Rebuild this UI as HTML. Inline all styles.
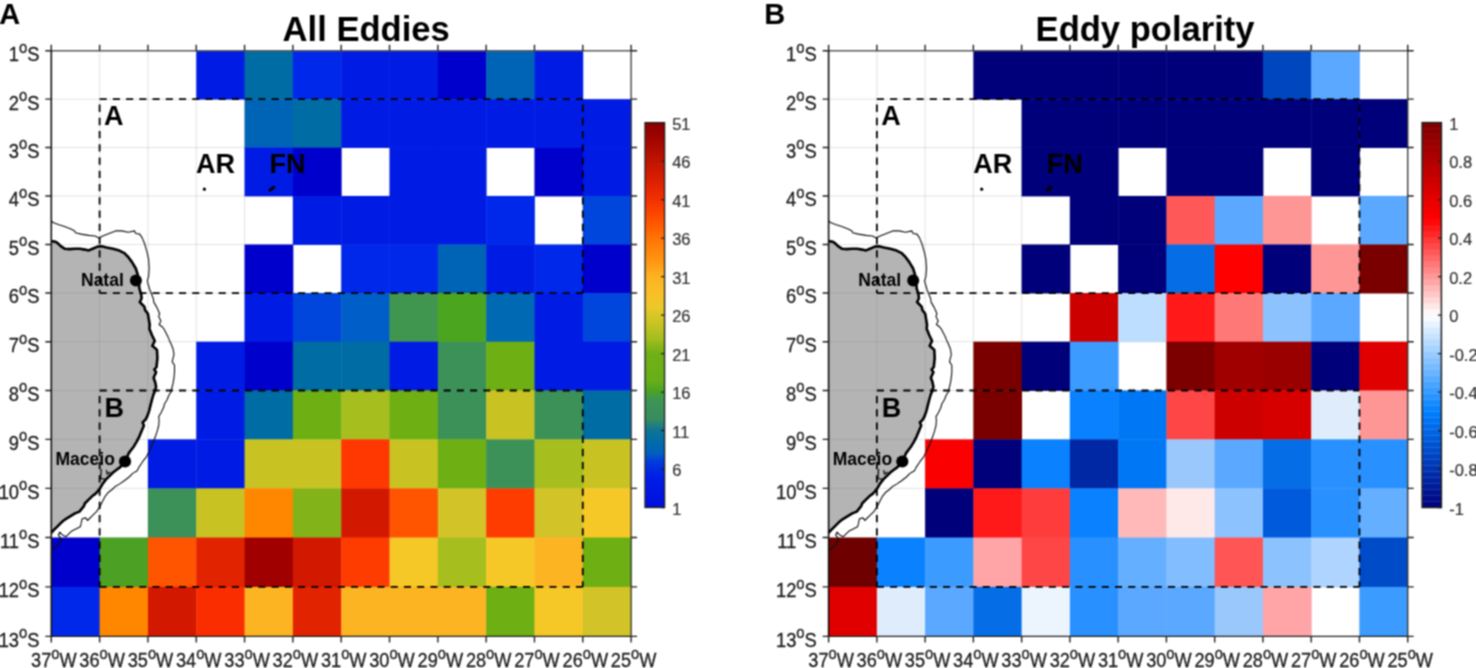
<!DOCTYPE html>
<html><head><meta charset="utf-8"><title>Eddies</title>
<style>
html,body{margin:0;padding:0;background:#fff;width:1476px;height:668px;overflow:hidden}
svg{display:block;will-change:transform}
text{font-family:"Liberation Sans", sans-serif}
</style></head>
<body>
<svg width="1476" height="668" viewBox="0 0 1476 668" font-family='"Liberation Sans", sans-serif'>
<defs><filter id="soft" x="0" y="0" width="100%" height="100%" filterUnits="userSpaceOnUse" color-interpolation-filters="sRGB"><feConvolveMatrix order="3" kernelMatrix="1 2 1 2 4 2 1 2 1" divisor="16" edgeMode="duplicate"/></filter></defs>
<g filter="url(#soft)">
<rect width="1476" height="668" fill="#fff"/>
<polygon points="51.3,241.1 55.6,241.7 58.2,243.6 60.7,246.2 64.5,248.7 69.6,249.1 74.7,248.7 79.8,248.7 84.9,249.6 88.7,250.4 92.6,248.7 97.6,246.6 101.5,246.2 106.6,247.5 112.9,248.7 119.3,250.6 124.4,253.2 128.2,257 132,262.1 135.8,268.5 137.8,274.8 139,283.7 139.4,288.6 141.2,294 141.6,298.5 139.8,302 141.2,303.5 144.3,306.6 145.2,310.2 147.9,313.8 148.8,319.1 149.7,324.5 149.4,329 150.2,330.8 152,335.3 154.2,339.8 154.7,341 152.3,346 153.8,347 157,349.9 157.4,358 156.5,367 154.3,369.6 156.1,372.3 153.6,377.7 155.2,382.2 156.1,386.7 155.2,390.3 153.3,395 152,399.5 150.6,404.9 149.3,410.3 147.5,415.7 145.7,419.3 142.6,422.5 143.9,425.5 141.6,430.9 139.4,436.3 136.7,441.7 134,446.2 131.3,449.8 128.6,453.4 125.1,461.7 120.2,467.1 116.6,469.8 113,472.5 109.4,476.1 105.8,479.6 103.1,483.2 100.4,487.7 97.7,491.3 95.6,493.6 92,496.3 88.4,499.9 84.8,503.5 83.9,506.2 79.4,511.6 75,513.4 70.5,516.1 66,518.8 61.5,522.3 57,526.8 53.4,530.4 51.3,532.8" fill="#b4b4b4"/>
<path d="M99.62 50.8V636.4M147.93 50.8V636.4M196.25 50.8V636.4M244.57 50.8V636.4M292.88 50.8V636.4M341.2 50.8V636.4M389.52 50.8V636.4M437.83 50.8V636.4M486.15 50.8V636.4M534.47 50.8V636.4M582.78 50.8V636.4M51.3 99.16H631.1M51.3 147.55H631.1M51.3 195.99H631.1M51.3 244.48H631.1M51.3 293.05H631.1M51.3 341.71H631.1M51.3 390.48H631.1M51.3 439.36H631.1M51.3 488.38H631.1M51.3 537.54H631.1M51.3 586.88H631.1" stroke="#808080" stroke-width="1" stroke-dasharray="1 1" fill="none" opacity="0.45"/>
<rect x="196.25" y="50.8" width="48.72" height="48.76" fill="#001ce4"/>
<rect x="244.57" y="50.8" width="48.72" height="48.76" fill="#006ca4"/>
<rect x="292.88" y="50.8" width="48.72" height="48.76" fill="#0028ea"/>
<rect x="341.2" y="50.8" width="48.72" height="48.76" fill="#001ce4"/>
<rect x="389.52" y="50.8" width="48.72" height="48.76" fill="#001ce4"/>
<rect x="437.83" y="50.8" width="48.72" height="48.76" fill="#0000cd"/>
<rect x="486.15" y="50.8" width="48.72" height="48.76" fill="#0064b6"/>
<rect x="534.47" y="50.8" width="48.72" height="48.76" fill="#001ce4"/>
<rect x="244.57" y="99.16" width="48.72" height="48.79" fill="#0064b6"/>
<rect x="292.88" y="99.16" width="48.72" height="48.79" fill="#006ca4"/>
<rect x="341.2" y="99.16" width="48.72" height="48.79" fill="#001ce4"/>
<rect x="389.52" y="99.16" width="48.72" height="48.79" fill="#001ce4"/>
<rect x="437.83" y="99.16" width="48.72" height="48.79" fill="#001ce4"/>
<rect x="486.15" y="99.16" width="48.72" height="48.79" fill="#001ce4"/>
<rect x="534.47" y="99.16" width="48.72" height="48.79" fill="#001ce4"/>
<rect x="582.78" y="99.16" width="48.72" height="48.79" fill="#001ce4"/>
<rect x="244.57" y="147.55" width="48.72" height="48.84" fill="#001ce4"/>
<rect x="292.88" y="147.55" width="48.72" height="48.84" fill="#0000cd"/>
<rect x="389.52" y="147.55" width="48.72" height="48.84" fill="#001ce4"/>
<rect x="437.83" y="147.55" width="48.72" height="48.84" fill="#001ce4"/>
<rect x="534.47" y="147.55" width="48.72" height="48.84" fill="#0000cd"/>
<rect x="582.78" y="147.55" width="48.72" height="48.84" fill="#001ce4"/>
<rect x="292.88" y="195.99" width="48.72" height="48.9" fill="#001ce4"/>
<rect x="341.2" y="195.99" width="48.72" height="48.9" fill="#001ce4"/>
<rect x="389.52" y="195.99" width="48.72" height="48.9" fill="#001ce4"/>
<rect x="437.83" y="195.99" width="48.72" height="48.9" fill="#001ce4"/>
<rect x="486.15" y="195.99" width="48.72" height="48.9" fill="#0028ea"/>
<rect x="582.78" y="195.99" width="48.72" height="48.9" fill="#0046dc"/>
<rect x="244.57" y="244.48" width="48.72" height="48.97" fill="#0000cd"/>
<rect x="341.2" y="244.48" width="48.72" height="48.97" fill="#0028ea"/>
<rect x="389.52" y="244.48" width="48.72" height="48.97" fill="#0028ea"/>
<rect x="437.83" y="244.48" width="48.72" height="48.97" fill="#0064b6"/>
<rect x="486.15" y="244.48" width="48.72" height="48.97" fill="#001ce4"/>
<rect x="534.47" y="244.48" width="48.72" height="48.97" fill="#0028ea"/>
<rect x="582.78" y="244.48" width="48.72" height="48.97" fill="#0000cd"/>
<rect x="244.57" y="293.05" width="48.72" height="49.06" fill="#001ce4"/>
<rect x="292.88" y="293.05" width="48.72" height="49.06" fill="#0046dc"/>
<rect x="341.2" y="293.05" width="48.72" height="49.06" fill="#005ec8"/>
<rect x="389.52" y="293.05" width="48.72" height="49.06" fill="#41964f"/>
<rect x="437.83" y="293.05" width="48.72" height="49.06" fill="#4ba51f"/>
<rect x="486.15" y="293.05" width="48.72" height="49.06" fill="#0069b4"/>
<rect x="534.47" y="293.05" width="48.72" height="49.06" fill="#001ce4"/>
<rect x="582.78" y="293.05" width="48.72" height="49.06" fill="#0046dc"/>
<rect x="196.25" y="341.71" width="48.72" height="49.16" fill="#001ce4"/>
<rect x="244.57" y="341.71" width="48.72" height="49.16" fill="#0000cd"/>
<rect x="292.88" y="341.71" width="48.72" height="49.16" fill="#006ca4"/>
<rect x="341.2" y="341.71" width="48.72" height="49.16" fill="#006ca4"/>
<rect x="389.52" y="341.71" width="48.72" height="49.16" fill="#001ce4"/>
<rect x="437.83" y="341.71" width="48.72" height="49.16" fill="#3c9158"/>
<rect x="486.15" y="341.71" width="48.72" height="49.16" fill="#6eaf14"/>
<rect x="534.47" y="341.71" width="48.72" height="49.16" fill="#001ce4"/>
<rect x="582.78" y="341.71" width="48.72" height="49.16" fill="#001ce4"/>
<rect x="196.25" y="390.48" width="48.72" height="49.28" fill="#001ce4"/>
<rect x="244.57" y="390.48" width="48.72" height="49.28" fill="#006ca4"/>
<rect x="292.88" y="390.48" width="48.72" height="49.28" fill="#6eaf14"/>
<rect x="341.2" y="390.48" width="48.72" height="49.28" fill="#a6be1e"/>
<rect x="389.52" y="390.48" width="48.72" height="49.28" fill="#6eaf14"/>
<rect x="437.83" y="390.48" width="48.72" height="49.28" fill="#3c9158"/>
<rect x="486.15" y="390.48" width="48.72" height="49.28" fill="#c8c323"/>
<rect x="534.47" y="390.48" width="48.72" height="49.28" fill="#3c9158"/>
<rect x="582.78" y="390.48" width="48.72" height="49.28" fill="#006ca4"/>
<rect x="147.93" y="439.36" width="48.72" height="49.42" fill="#001ce4"/>
<rect x="196.25" y="439.36" width="48.72" height="49.42" fill="#001ce4"/>
<rect x="244.57" y="439.36" width="48.72" height="49.42" fill="#c8c323"/>
<rect x="292.88" y="439.36" width="48.72" height="49.42" fill="#c8c323"/>
<rect x="341.2" y="439.36" width="48.72" height="49.42" fill="#ff3700"/>
<rect x="389.52" y="439.36" width="48.72" height="49.42" fill="#c8c323"/>
<rect x="437.83" y="439.36" width="48.72" height="49.42" fill="#6eaf14"/>
<rect x="486.15" y="439.36" width="48.72" height="49.42" fill="#3c9158"/>
<rect x="534.47" y="439.36" width="48.72" height="49.42" fill="#a6be1e"/>
<rect x="582.78" y="439.36" width="48.72" height="49.42" fill="#c8c323"/>
<rect x="147.93" y="488.38" width="48.72" height="49.57" fill="#3c9158"/>
<rect x="196.25" y="488.38" width="48.72" height="49.57" fill="#c8c323"/>
<rect x="244.57" y="488.38" width="48.72" height="49.57" fill="#ff8700"/>
<rect x="292.88" y="488.38" width="48.72" height="49.57" fill="#82b419"/>
<rect x="341.2" y="488.38" width="48.72" height="49.57" fill="#d21900"/>
<rect x="389.52" y="488.38" width="48.72" height="49.57" fill="#ff5500"/>
<rect x="437.83" y="488.38" width="48.72" height="49.57" fill="#d2c328"/>
<rect x="486.15" y="488.38" width="48.72" height="49.57" fill="#ff3c00"/>
<rect x="534.47" y="488.38" width="48.72" height="49.57" fill="#d2c328"/>
<rect x="582.78" y="488.38" width="48.72" height="49.57" fill="#f5c828"/>
<rect x="51.3" y="537.54" width="48.72" height="49.74" fill="#0000cd"/>
<rect x="99.62" y="537.54" width="48.72" height="49.74" fill="#4ca023"/>
<rect x="147.93" y="537.54" width="48.72" height="49.74" fill="#ff5500"/>
<rect x="196.25" y="537.54" width="48.72" height="49.74" fill="#e12300"/>
<rect x="244.57" y="537.54" width="48.72" height="49.74" fill="#a00000"/>
<rect x="292.88" y="537.54" width="48.72" height="49.74" fill="#d21900"/>
<rect x="341.2" y="537.54" width="48.72" height="49.74" fill="#ff3c00"/>
<rect x="389.52" y="537.54" width="48.72" height="49.74" fill="#f5c828"/>
<rect x="437.83" y="537.54" width="48.72" height="49.74" fill="#a6be1e"/>
<rect x="486.15" y="537.54" width="48.72" height="49.74" fill="#f5c828"/>
<rect x="534.47" y="537.54" width="48.72" height="49.74" fill="#fdb423"/>
<rect x="582.78" y="537.54" width="48.72" height="49.74" fill="#6eaf14"/>
<rect x="51.3" y="586.88" width="48.72" height="49.92" fill="#0028ea"/>
<rect x="99.62" y="586.88" width="48.72" height="49.92" fill="#ff8700"/>
<rect x="147.93" y="586.88" width="48.72" height="49.92" fill="#d21900"/>
<rect x="196.25" y="586.88" width="48.72" height="49.92" fill="#fa2d00"/>
<rect x="244.57" y="586.88" width="48.72" height="49.92" fill="#fdb423"/>
<rect x="292.88" y="586.88" width="48.72" height="49.92" fill="#e12300"/>
<rect x="341.2" y="586.88" width="48.72" height="49.92" fill="#fdb423"/>
<rect x="389.52" y="586.88" width="48.72" height="49.92" fill="#fdb423"/>
<rect x="437.83" y="586.88" width="48.72" height="49.92" fill="#fdb423"/>
<rect x="486.15" y="586.88" width="48.72" height="49.92" fill="#6eaf14"/>
<rect x="534.47" y="586.88" width="48.72" height="49.92" fill="#f5c828"/>
<rect x="582.78" y="586.88" width="48.72" height="49.92" fill="#d2c328"/>
<polyline points="51.3,220.7 53.1,222.6 58.2,224.5 64.5,226.5 70.9,229 74.7,230.9 75.4,232.8 81.1,234.1 88.7,235.4 95.1,236 98.9,237.9 102.7,236 109.1,233.5 115.5,230.9 121.8,230.9 128.2,232.2 134.6,230.9 135.8,233.5 139.7,234.1 142.2,237.9 144.8,244.3 147.3,253.2 148.6,259.6 149.2,268.5 148.6,276.1 147.3,281.2 149.7,289.5 151.5,294 153.3,298.5 153.8,302.1 156.4,306.6 158.2,310.2 159.6,313.8 158.7,316.4 160.9,320.9 159.1,324.5 162.7,327.2 164.5,329.9 167.2,335.3 168.1,337.1 169.9,341.6 171.3,344.5 173.1,349 174,354.4 172.2,361.6 174.5,365.2 174.5,372.3 174,377.7 173.1,383.1 171.8,388.5 170.9,392.1 169,395 167.2,399.5 164.5,404 163.6,407.6 160.9,413 158.7,416.6 159.1,420.2 158.7,425.5 157.3,430.9 155.5,436.3 153.8,440.8 152,445.3 149.8,450 148,453.6 146.2,457.2 142.6,461.7 139,467.1 137.2,470.7 132.7,473.4 129.1,477 124.6,480.5 119.3,484.1 114.8,486.8 112.1,489.5 108.5,492.2 104.9,496.7 102.2,502.1 100.1,506.2 96.5,511.6 92.9,515.2 87.5,520.5 85.7,517.9 82.1,518.8 81.2,523.2 80.3,526.8 76.8,528.6 71.4,531.3 67.8,534.9 66,536.7 62.4,534.9 59.7,532.2 58.3,534.9 61.5,539.4 58.8,543.9 54.3,548.4 51.3,550.5" fill="none" stroke="#111" stroke-width="1.1" stroke-linejoin="round"/>
<polyline points="51.3,241.1 55.6,241.7 58.2,243.6 60.7,246.2 64.5,248.7 69.6,249.1 74.7,248.7 79.8,248.7 84.9,249.6 88.7,250.4 92.6,248.7 97.6,246.6 101.5,246.2 106.6,247.5 112.9,248.7 119.3,250.6 124.4,253.2 128.2,257 132,262.1 135.8,268.5 137.8,274.8 139,283.7 139.4,288.6 141.2,294 141.6,298.5 139.8,302 141.2,303.5 144.3,306.6 145.2,310.2 147.9,313.8 148.8,319.1 149.7,324.5 149.4,329 150.2,330.8 152,335.3 154.2,339.8 154.7,341 152.3,346 153.8,347 157,349.9 157.4,358 156.5,367 154.3,369.6 156.1,372.3 153.6,377.7 155.2,382.2 156.1,386.7 155.2,390.3 153.3,395 152,399.5 150.6,404.9 149.3,410.3 147.5,415.7 145.7,419.3 142.6,422.5 143.9,425.5 141.6,430.9 139.4,436.3 136.7,441.7 134,446.2 131.3,449.8 128.6,453.4 125.1,461.7 120.2,467.1 116.6,469.8 113,472.5 109.4,476.1 105.8,479.6 103.1,483.2 100.4,487.7 97.7,491.3 95.6,493.6 92,496.3 88.4,499.9 84.8,503.5 83.9,506.2 79.4,511.6 75,513.4 70.5,516.1 66,518.8 61.5,522.3 57,526.8 53.4,530.4 51.3,532.8" fill="none" stroke="#000" stroke-width="2.6" stroke-linejoin="round"/>
<path d="M101.3 469L100.6 478.6L104.8 479M106.4 470.2L107.2 474L110.2 472" stroke="#000" stroke-width="1.2" fill="none"/>
<path d="M99.62 99.16H582.78M99.62 293.05H582.78" fill="none" stroke="#000" stroke-width="1.8" stroke-dasharray="7.1 6.13"/>
<path d="M99.62 99.16V293.05M582.78 99.16V293.05" fill="none" stroke="#000" stroke-width="1.8" stroke-dasharray="7.3 5.93" stroke-dashoffset="7.79"/>
<path d="M99.62 390.48H582.78M99.62 586.88H582.78" fill="none" stroke="#000" stroke-width="1.8" stroke-dasharray="7.1 6.13"/>
<path d="M99.62 390.48V586.88M582.78 390.48V586.88" fill="none" stroke="#000" stroke-width="1.8" stroke-dasharray="7.3 5.93" stroke-dashoffset="7.79"/>
<text x="104" y="125" font-size="27" font-weight="bold">A</text>
<text x="104.5" y="416.5" font-size="27" font-weight="bold">B</text>
<text x="196" y="173" font-size="27" font-weight="bold">AR</text>
<text x="269.5" y="173" font-size="27" font-weight="bold">FN</text>
<circle cx="204.4" cy="189.2" r="1.6" fill="#000"/>
<ellipse cx="272" cy="188.6" rx="4" ry="1.7" transform="rotate(-35 272 188.6)" fill="#000"/>
<text x="81" y="285.7" font-size="17.5" font-weight="bold">Natal</text>
<circle cx="135.9" cy="280.6" r="6" fill="#000"/>
<text x="55.5" y="465" font-size="17.5" font-weight="bold">Maceio</text>
<circle cx="125" cy="461.5" r="6.1" fill="#000"/>
<path d="M51.3 50.8H631.1" stroke="#5a5a5a" stroke-width="1.6"/>
<path d="M51.3 636.4H631.1" stroke="#222" stroke-width="1.3"/>
<path d="M51.3 50V637" stroke="#111" stroke-width="1.6"/>
<path d="M631.1 50V637" stroke="#333" stroke-width="1.3"/>
<path d="M51.3 44.8V50.8M51.3 636.4V642.4M99.62 44.8V50.8M99.62 636.4V642.4M147.93 44.8V50.8M147.93 636.4V642.4M196.25 44.8V50.8M196.25 636.4V642.4M244.57 44.8V50.8M244.57 636.4V642.4M292.88 44.8V50.8M292.88 636.4V642.4M341.2 44.8V50.8M341.2 636.4V642.4M389.52 44.8V50.8M389.52 636.4V642.4M437.83 44.8V50.8M437.83 636.4V642.4M486.15 44.8V50.8M486.15 636.4V642.4M534.47 44.8V50.8M534.47 636.4V642.4M582.78 44.8V50.8M582.78 636.4V642.4M631.1 44.8V50.8M631.1 636.4V642.4M45.3 50.8H51.3M631.1 50.8H637.1M45.3 99.16H51.3M631.1 99.16H637.1M45.3 147.55H51.3M631.1 147.55H637.1M45.3 195.99H51.3M631.1 195.99H637.1M45.3 244.48H51.3M631.1 244.48H637.1M45.3 293.05H51.3M631.1 293.05H637.1M45.3 341.71H51.3M631.1 341.71H637.1M45.3 390.48H51.3M631.1 390.48H637.1M45.3 439.36H51.3M631.1 439.36H637.1M45.3 488.38H51.3M631.1 488.38H637.1M45.3 537.54H51.3M631.1 537.54H637.1M45.3 586.88H51.3M631.1 586.88H637.1M45.3 636.4H51.3M631.1 636.4H637.1" stroke="#222" stroke-width="1.4"/>
<text transform="translate(39.5 61.2) scale(1.02 1.08)" font-size="18" text-anchor="end" fill="#1a1a1a" stroke="#1a1a1a" stroke-width="0.25">1<tspan font-size="14.5" dy="-7.9">o</tspan><tspan dy="7.9">S</tspan></text>
<text transform="translate(39.5 109.56) scale(1.02 1.08)" font-size="18" text-anchor="end" fill="#1a1a1a" stroke="#1a1a1a" stroke-width="0.25">2<tspan font-size="14.5" dy="-7.9">o</tspan><tspan dy="7.9">S</tspan></text>
<text transform="translate(39.5 157.95) scale(1.02 1.08)" font-size="18" text-anchor="end" fill="#1a1a1a" stroke="#1a1a1a" stroke-width="0.25">3<tspan font-size="14.5" dy="-7.9">o</tspan><tspan dy="7.9">S</tspan></text>
<text transform="translate(39.5 206.39) scale(1.02 1.08)" font-size="18" text-anchor="end" fill="#1a1a1a" stroke="#1a1a1a" stroke-width="0.25">4<tspan font-size="14.5" dy="-7.9">o</tspan><tspan dy="7.9">S</tspan></text>
<text transform="translate(39.5 254.88) scale(1.02 1.08)" font-size="18" text-anchor="end" fill="#1a1a1a" stroke="#1a1a1a" stroke-width="0.25">5<tspan font-size="14.5" dy="-7.9">o</tspan><tspan dy="7.9">S</tspan></text>
<text transform="translate(39.5 303.45) scale(1.02 1.08)" font-size="18" text-anchor="end" fill="#1a1a1a" stroke="#1a1a1a" stroke-width="0.25">6<tspan font-size="14.5" dy="-7.9">o</tspan><tspan dy="7.9">S</tspan></text>
<text transform="translate(39.5 352.11) scale(1.02 1.08)" font-size="18" text-anchor="end" fill="#1a1a1a" stroke="#1a1a1a" stroke-width="0.25">7<tspan font-size="14.5" dy="-7.9">o</tspan><tspan dy="7.9">S</tspan></text>
<text transform="translate(39.5 400.88) scale(1.02 1.08)" font-size="18" text-anchor="end" fill="#1a1a1a" stroke="#1a1a1a" stroke-width="0.25">8<tspan font-size="14.5" dy="-7.9">o</tspan><tspan dy="7.9">S</tspan></text>
<text transform="translate(39.5 449.76) scale(1.02 1.08)" font-size="18" text-anchor="end" fill="#1a1a1a" stroke="#1a1a1a" stroke-width="0.25">9<tspan font-size="14.5" dy="-7.9">o</tspan><tspan dy="7.9">S</tspan></text>
<text transform="translate(39.5 498.78) scale(1.02 1.08)" font-size="18" text-anchor="end" fill="#1a1a1a" stroke="#1a1a1a" stroke-width="0.25">10<tspan font-size="14.5" dy="-7.9">o</tspan><tspan dy="7.9">S</tspan></text>
<text transform="translate(39.5 547.94) scale(1.02 1.08)" font-size="18" text-anchor="end" fill="#1a1a1a" stroke="#1a1a1a" stroke-width="0.25">11<tspan font-size="14.5" dy="-7.9">o</tspan><tspan dy="7.9">S</tspan></text>
<text transform="translate(39.5 597.28) scale(1.02 1.08)" font-size="18" text-anchor="end" fill="#1a1a1a" stroke="#1a1a1a" stroke-width="0.25">12<tspan font-size="14.5" dy="-7.9">o</tspan><tspan dy="7.9">S</tspan></text>
<text transform="translate(39.5 646.8) scale(1.02 1.08)" font-size="18" text-anchor="end" fill="#1a1a1a" stroke="#1a1a1a" stroke-width="0.25">13<tspan font-size="14.5" dy="-7.9">o</tspan><tspan dy="7.9">S</tspan></text>
<text transform="translate(53.8 667) scale(1.01 1.08)" font-size="18" text-anchor="middle" fill="#1a1a1a" stroke="#1a1a1a" stroke-width="0.25">37<tspan font-size="14.5" dy="-7.6">o</tspan><tspan dy="7.6">W</tspan></text>
<text transform="translate(102.12 667) scale(1.01 1.08)" font-size="18" text-anchor="middle" fill="#1a1a1a" stroke="#1a1a1a" stroke-width="0.25">36<tspan font-size="14.5" dy="-7.6">o</tspan><tspan dy="7.6">W</tspan></text>
<text transform="translate(150.43 667) scale(1.01 1.08)" font-size="18" text-anchor="middle" fill="#1a1a1a" stroke="#1a1a1a" stroke-width="0.25">35<tspan font-size="14.5" dy="-7.6">o</tspan><tspan dy="7.6">W</tspan></text>
<text transform="translate(198.75 667) scale(1.01 1.08)" font-size="18" text-anchor="middle" fill="#1a1a1a" stroke="#1a1a1a" stroke-width="0.25">34<tspan font-size="14.5" dy="-7.6">o</tspan><tspan dy="7.6">W</tspan></text>
<text transform="translate(247.07 667) scale(1.01 1.08)" font-size="18" text-anchor="middle" fill="#1a1a1a" stroke="#1a1a1a" stroke-width="0.25">33<tspan font-size="14.5" dy="-7.6">o</tspan><tspan dy="7.6">W</tspan></text>
<text transform="translate(295.38 667) scale(1.01 1.08)" font-size="18" text-anchor="middle" fill="#1a1a1a" stroke="#1a1a1a" stroke-width="0.25">32<tspan font-size="14.5" dy="-7.6">o</tspan><tspan dy="7.6">W</tspan></text>
<text transform="translate(343.7 667) scale(1.01 1.08)" font-size="18" text-anchor="middle" fill="#1a1a1a" stroke="#1a1a1a" stroke-width="0.25">31<tspan font-size="14.5" dy="-7.6">o</tspan><tspan dy="7.6">W</tspan></text>
<text transform="translate(392.02 667) scale(1.01 1.08)" font-size="18" text-anchor="middle" fill="#1a1a1a" stroke="#1a1a1a" stroke-width="0.25">30<tspan font-size="14.5" dy="-7.6">o</tspan><tspan dy="7.6">W</tspan></text>
<text transform="translate(440.33 667) scale(1.01 1.08)" font-size="18" text-anchor="middle" fill="#1a1a1a" stroke="#1a1a1a" stroke-width="0.25">29<tspan font-size="14.5" dy="-7.6">o</tspan><tspan dy="7.6">W</tspan></text>
<text transform="translate(488.65 667) scale(1.01 1.08)" font-size="18" text-anchor="middle" fill="#1a1a1a" stroke="#1a1a1a" stroke-width="0.25">28<tspan font-size="14.5" dy="-7.6">o</tspan><tspan dy="7.6">W</tspan></text>
<text transform="translate(536.97 667) scale(1.01 1.08)" font-size="18" text-anchor="middle" fill="#1a1a1a" stroke="#1a1a1a" stroke-width="0.25">27<tspan font-size="14.5" dy="-7.6">o</tspan><tspan dy="7.6">W</tspan></text>
<text transform="translate(585.28 667) scale(1.01 1.08)" font-size="18" text-anchor="middle" fill="#1a1a1a" stroke="#1a1a1a" stroke-width="0.25">26<tspan font-size="14.5" dy="-7.6">o</tspan><tspan dy="7.6">W</tspan></text>
<text transform="translate(633.6 667) scale(1.01 1.08)" font-size="18" text-anchor="middle" fill="#1a1a1a" stroke="#1a1a1a" stroke-width="0.25">25<tspan font-size="14.5" dy="-7.6">o</tspan><tspan dy="7.6">W</tspan></text>
<text x="366.2" y="41.2" font-size="34.6" font-weight="bold" text-anchor="middle">All Eddies</text>
<text x="-0.8" y="23.6" font-size="29" font-weight="bold">A</text>
<defs><linearGradient id="gl" x1="0" y1="1" x2="0" y2="0"><stop offset="0" stop-color="#000fdc"/><stop offset="0.08" stop-color="#001ee6"/><stop offset="0.12" stop-color="#003cdc"/><stop offset="0.14" stop-color="#005fbe"/><stop offset="0.17" stop-color="#006caa"/><stop offset="0.2" stop-color="#0f7396"/><stop offset="0.23" stop-color="#378c5f"/><stop offset="0.28" stop-color="#3e9455"/><stop offset="0.3" stop-color="#48a226"/><stop offset="0.33" stop-color="#69ae18"/><stop offset="0.4" stop-color="#70b016"/><stop offset="0.44" stop-color="#a5be1e"/><stop offset="0.48" stop-color="#c8c423"/><stop offset="0.52" stop-color="#ebc82a"/><stop offset="0.56" stop-color="#fabe26"/><stop offset="0.6" stop-color="#fdb221"/><stop offset="0.64" stop-color="#ff9612"/><stop offset="0.7" stop-color="#ff7305"/><stop offset="0.74" stop-color="#ff5500"/><stop offset="0.8" stop-color="#f23000"/><stop offset="0.86" stop-color="#d61c00"/><stop offset="0.9" stop-color="#c01400"/><stop offset="0.96" stop-color="#a00400"/><stop offset="1" stop-color="#880000"/></linearGradient></defs>
<rect x="645" y="122.6" width="19.6" height="384.9" fill="url(#gl)" stroke="#222" stroke-width="1.3"/>
<text transform="translate(672.2 129.7) scale(1 1.03)" font-size="16.5" fill="#333" stroke="#333" stroke-width="0.2">51</text>
<text transform="translate(672.2 168.19) scale(1 1.03)" font-size="16.5" fill="#333" stroke="#333" stroke-width="0.2">46</text>
<text transform="translate(672.2 206.68) scale(1 1.03)" font-size="16.5" fill="#333" stroke="#333" stroke-width="0.2">41</text>
<text transform="translate(672.2 245.17) scale(1 1.03)" font-size="16.5" fill="#333" stroke="#333" stroke-width="0.2">36</text>
<text transform="translate(672.2 283.66) scale(1 1.03)" font-size="16.5" fill="#333" stroke="#333" stroke-width="0.2">31</text>
<text transform="translate(672.2 322.15) scale(1 1.03)" font-size="16.5" fill="#333" stroke="#333" stroke-width="0.2">26</text>
<text transform="translate(672.2 360.64) scale(1 1.03)" font-size="16.5" fill="#333" stroke="#333" stroke-width="0.2">21</text>
<text transform="translate(672.2 399.13) scale(1 1.03)" font-size="16.5" fill="#333" stroke="#333" stroke-width="0.2">16</text>
<text transform="translate(672.2 437.62) scale(1 1.03)" font-size="16.5" fill="#333" stroke="#333" stroke-width="0.2">11</text>
<text transform="translate(672.2 476.11) scale(1 1.03)" font-size="16.5" fill="#333" stroke="#333" stroke-width="0.2">6</text>
<text transform="translate(672.2 514.6) scale(1 1.03)" font-size="16.5" fill="#333" stroke="#333" stroke-width="0.2">1</text>
<path d="M661.1 122.6H664.6M661.1 161.09H664.6M661.1 199.58H664.6M661.1 238.07H664.6M661.1 276.56H664.6M661.1 315.05H664.6M661.1 353.54H664.6M661.1 392.03H664.6M661.1 430.52H664.6M661.1 469.01H664.6M661.1 507.5H664.6" stroke="#222" stroke-width="1.3"/>
<polygon points="828.6,241.1 832.9,241.7 835.5,243.6 838,246.2 841.8,248.7 846.9,249.1 852,248.7 857.1,248.7 862.2,249.6 866,250.4 869.9,248.7 874.9,246.6 878.8,246.2 883.9,247.5 890.2,248.7 896.6,250.6 901.7,253.2 905.5,257 909.3,262.1 913.1,268.5 915.1,274.8 916.3,283.7 916.7,288.6 918.5,294 918.9,298.5 917.1,302 918.5,303.5 921.6,306.6 922.5,310.2 925.2,313.8 926.1,319.1 927,324.5 926.7,329 927.5,330.8 929.3,335.3 931.5,339.8 932,341 929.6,346 931.1,347 934.3,349.9 934.7,358 933.8,367 931.6,369.6 933.4,372.3 930.9,377.7 932.5,382.2 933.4,386.7 932.5,390.3 930.6,395 929.3,399.5 927.9,404.9 926.6,410.3 924.8,415.7 923,419.3 919.9,422.5 921.2,425.5 918.9,430.9 916.7,436.3 914,441.7 911.3,446.2 908.6,449.8 905.9,453.4 902.4,461.7 897.5,467.1 893.9,469.8 890.3,472.5 886.7,476.1 883.1,479.6 880.4,483.2 877.7,487.7 875,491.3 872.9,493.6 869.3,496.3 865.7,499.9 862.1,503.5 861.2,506.2 856.7,511.6 852.3,513.4 847.8,516.1 843.3,518.8 838.8,522.3 834.3,526.8 830.7,530.4 828.6,532.8" fill="#b4b4b4"/>
<path d="M876.86 50.8V636.4M925.12 50.8V636.4M973.38 50.8V636.4M1021.63 50.8V636.4M1069.89 50.8V636.4M1118.15 50.8V636.4M1166.41 50.8V636.4M1214.67 50.8V636.4M1262.93 50.8V636.4M1311.18 50.8V636.4M1359.44 50.8V636.4M828.6 99.16H1407.7M828.6 147.55H1407.7M828.6 195.99H1407.7M828.6 244.48H1407.7M828.6 293.05H1407.7M828.6 341.71H1407.7M828.6 390.48H1407.7M828.6 439.36H1407.7M828.6 488.38H1407.7M828.6 537.54H1407.7M828.6 586.88H1407.7" stroke="#808080" stroke-width="1" stroke-dasharray="1 1" fill="none" opacity="0.45"/>
<rect x="973.38" y="50.8" width="48.66" height="48.76" fill="#00007a"/>
<rect x="1021.63" y="50.8" width="48.66" height="48.76" fill="#00007a"/>
<rect x="1069.89" y="50.8" width="48.66" height="48.76" fill="#00007a"/>
<rect x="1118.15" y="50.8" width="48.66" height="48.76" fill="#00007a"/>
<rect x="1166.41" y="50.8" width="48.66" height="48.76" fill="#00007a"/>
<rect x="1214.67" y="50.8" width="48.66" height="48.76" fill="#00007a"/>
<rect x="1262.93" y="50.8" width="48.66" height="48.76" fill="#0046be"/>
<rect x="1311.18" y="50.8" width="48.66" height="48.76" fill="#5aa8ff"/>
<rect x="1021.63" y="99.16" width="48.66" height="48.79" fill="#00007a"/>
<rect x="1069.89" y="99.16" width="48.66" height="48.79" fill="#00007a"/>
<rect x="1118.15" y="99.16" width="48.66" height="48.79" fill="#00007a"/>
<rect x="1166.41" y="99.16" width="48.66" height="48.79" fill="#00007a"/>
<rect x="1214.67" y="99.16" width="48.66" height="48.79" fill="#00007a"/>
<rect x="1262.93" y="99.16" width="48.66" height="48.79" fill="#00007a"/>
<rect x="1311.18" y="99.16" width="48.66" height="48.79" fill="#00007a"/>
<rect x="1359.44" y="99.16" width="48.66" height="48.79" fill="#00007a"/>
<rect x="1021.63" y="147.55" width="48.66" height="48.84" fill="#00007a"/>
<rect x="1069.89" y="147.55" width="48.66" height="48.84" fill="#00007a"/>
<rect x="1166.41" y="147.55" width="48.66" height="48.84" fill="#00007a"/>
<rect x="1214.67" y="147.55" width="48.66" height="48.84" fill="#00007a"/>
<rect x="1311.18" y="147.55" width="48.66" height="48.84" fill="#00007a"/>
<rect x="1069.89" y="195.99" width="48.66" height="48.9" fill="#00007a"/>
<rect x="1118.15" y="195.99" width="48.66" height="48.9" fill="#00007a"/>
<rect x="1166.41" y="195.99" width="48.66" height="48.9" fill="#ff5858"/>
<rect x="1214.67" y="195.99" width="48.66" height="48.9" fill="#5aa8ff"/>
<rect x="1262.93" y="195.99" width="48.66" height="48.9" fill="#ff9696"/>
<rect x="1359.44" y="195.99" width="48.66" height="48.9" fill="#5aa8ff"/>
<rect x="1021.63" y="244.48" width="48.66" height="48.97" fill="#00007a"/>
<rect x="1118.15" y="244.48" width="48.66" height="48.97" fill="#00007a"/>
<rect x="1166.41" y="244.48" width="48.66" height="48.97" fill="#056ee6"/>
<rect x="1214.67" y="244.48" width="48.66" height="48.97" fill="#ff0000"/>
<rect x="1262.93" y="244.48" width="48.66" height="48.97" fill="#00007a"/>
<rect x="1311.18" y="244.48" width="48.66" height="48.97" fill="#ff9696"/>
<rect x="1359.44" y="244.48" width="48.66" height="48.97" fill="#7a0000"/>
<rect x="1069.89" y="293.05" width="48.66" height="49.06" fill="#cd0000"/>
<rect x="1118.15" y="293.05" width="48.66" height="49.06" fill="#bedeff"/>
<rect x="1166.41" y="293.05" width="48.66" height="49.06" fill="#ff1919"/>
<rect x="1214.67" y="293.05" width="48.66" height="49.06" fill="#ff7878"/>
<rect x="1262.93" y="293.05" width="48.66" height="49.06" fill="#8cc3ff"/>
<rect x="1311.18" y="293.05" width="48.66" height="49.06" fill="#5aa8ff"/>
<rect x="973.38" y="341.71" width="48.66" height="49.16" fill="#7a0000"/>
<rect x="1021.63" y="341.71" width="48.66" height="49.16" fill="#00007a"/>
<rect x="1069.89" y="341.71" width="48.66" height="49.16" fill="#3c9bff"/>
<rect x="1166.41" y="341.71" width="48.66" height="49.16" fill="#7d0000"/>
<rect x="1214.67" y="341.71" width="48.66" height="49.16" fill="#a00000"/>
<rect x="1262.93" y="341.71" width="48.66" height="49.16" fill="#9b0000"/>
<rect x="1311.18" y="341.71" width="48.66" height="49.16" fill="#00007a"/>
<rect x="1359.44" y="341.71" width="48.66" height="49.16" fill="#e10000"/>
<rect x="973.38" y="390.48" width="48.66" height="49.28" fill="#7a0000"/>
<rect x="1069.89" y="390.48" width="48.66" height="49.28" fill="#0a82ff"/>
<rect x="1118.15" y="390.48" width="48.66" height="49.28" fill="#0078f5"/>
<rect x="1166.41" y="390.48" width="48.66" height="49.28" fill="#ff4646"/>
<rect x="1214.67" y="390.48" width="48.66" height="49.28" fill="#cd0000"/>
<rect x="1262.93" y="390.48" width="48.66" height="49.28" fill="#d70000"/>
<rect x="1311.18" y="390.48" width="48.66" height="49.28" fill="#deecfc"/>
<rect x="1359.44" y="390.48" width="48.66" height="49.28" fill="#ff9696"/>
<rect x="925.12" y="439.36" width="48.66" height="49.42" fill="#fa0000"/>
<rect x="973.38" y="439.36" width="48.66" height="49.42" fill="#00007a"/>
<rect x="1021.63" y="439.36" width="48.66" height="49.42" fill="#0a82ff"/>
<rect x="1069.89" y="439.36" width="48.66" height="49.42" fill="#0028a5"/>
<rect x="1118.15" y="439.36" width="48.66" height="49.42" fill="#0078f5"/>
<rect x="1166.41" y="439.36" width="48.66" height="49.42" fill="#9bc8fc"/>
<rect x="1214.67" y="439.36" width="48.66" height="49.42" fill="#5aa8ff"/>
<rect x="1262.93" y="439.36" width="48.66" height="49.42" fill="#056ee6"/>
<rect x="1311.18" y="439.36" width="48.66" height="49.42" fill="#2891ff"/>
<rect x="1359.44" y="439.36" width="48.66" height="49.42" fill="#2891ff"/>
<rect x="925.12" y="488.38" width="48.66" height="49.57" fill="#00007a"/>
<rect x="973.38" y="488.38" width="48.66" height="49.57" fill="#ff1919"/>
<rect x="1021.63" y="488.38" width="48.66" height="49.57" fill="#ff3c3c"/>
<rect x="1069.89" y="488.38" width="48.66" height="49.57" fill="#0a82ff"/>
<rect x="1118.15" y="488.38" width="48.66" height="49.57" fill="#ffb9b9"/>
<rect x="1166.41" y="488.38" width="48.66" height="49.57" fill="#ffe8e8"/>
<rect x="1214.67" y="488.38" width="48.66" height="49.57" fill="#8cc3ff"/>
<rect x="1262.93" y="488.38" width="48.66" height="49.57" fill="#005adc"/>
<rect x="1311.18" y="488.38" width="48.66" height="49.57" fill="#2891ff"/>
<rect x="1359.44" y="488.38" width="48.66" height="49.57" fill="#64afff"/>
<rect x="828.6" y="537.54" width="48.66" height="49.74" fill="#6e0000"/>
<rect x="876.86" y="537.54" width="48.66" height="49.74" fill="#0a82ff"/>
<rect x="925.12" y="537.54" width="48.66" height="49.74" fill="#3c9bff"/>
<rect x="973.38" y="537.54" width="48.66" height="49.74" fill="#ffa5a8"/>
<rect x="1021.63" y="537.54" width="48.66" height="49.74" fill="#ff4646"/>
<rect x="1069.89" y="537.54" width="48.66" height="49.74" fill="#2891ff"/>
<rect x="1118.15" y="537.54" width="48.66" height="49.74" fill="#64afff"/>
<rect x="1166.41" y="537.54" width="48.66" height="49.74" fill="#82beff"/>
<rect x="1214.67" y="537.54" width="48.66" height="49.74" fill="#ff5555"/>
<rect x="1262.93" y="537.54" width="48.66" height="49.74" fill="#8cc3ff"/>
<rect x="1311.18" y="537.54" width="48.66" height="49.74" fill="#afd4ff"/>
<rect x="1359.44" y="537.54" width="48.66" height="49.74" fill="#004bc8"/>
<rect x="828.6" y="586.88" width="48.66" height="49.92" fill="#e10000"/>
<rect x="876.86" y="586.88" width="48.66" height="49.92" fill="#deecfc"/>
<rect x="925.12" y="586.88" width="48.66" height="49.92" fill="#5aa8ff"/>
<rect x="973.38" y="586.88" width="48.66" height="49.92" fill="#056ee6"/>
<rect x="1021.63" y="586.88" width="48.66" height="49.92" fill="#ecf4fe"/>
<rect x="1069.89" y="586.88" width="48.66" height="49.92" fill="#2891ff"/>
<rect x="1118.15" y="586.88" width="48.66" height="49.92" fill="#5aa8ff"/>
<rect x="1166.41" y="586.88" width="48.66" height="49.92" fill="#5aa8ff"/>
<rect x="1214.67" y="586.88" width="48.66" height="49.92" fill="#9bc8fc"/>
<rect x="1262.93" y="586.88" width="48.66" height="49.92" fill="#ffa5a8"/>
<rect x="1359.44" y="586.88" width="48.66" height="49.92" fill="#3c9bff"/>
<polyline points="828.6,220.7 830.4,222.6 835.5,224.5 841.8,226.5 848.2,229 852,230.9 852.7,232.8 858.4,234.1 866,235.4 872.4,236 876.2,237.9 880,236 886.4,233.5 892.8,230.9 899.1,230.9 905.5,232.2 911.9,230.9 913.1,233.5 917,234.1 919.5,237.9 922.1,244.3 924.6,253.2 925.9,259.6 926.5,268.5 925.9,276.1 924.6,281.2 927,289.5 928.8,294 930.6,298.5 931.1,302.1 933.7,306.6 935.5,310.2 936.9,313.8 936,316.4 938.2,320.9 936.4,324.5 940,327.2 941.8,329.9 944.5,335.3 945.4,337.1 947.2,341.6 948.6,344.5 950.4,349 951.3,354.4 949.5,361.6 951.8,365.2 951.8,372.3 951.3,377.7 950.4,383.1 949.1,388.5 948.2,392.1 946.3,395 944.5,399.5 941.8,404 940.9,407.6 938.2,413 936,416.6 936.4,420.2 936,425.5 934.6,430.9 932.8,436.3 931.1,440.8 929.3,445.3 927.1,450 925.3,453.6 923.5,457.2 919.9,461.7 916.3,467.1 914.5,470.7 910,473.4 906.4,477 901.9,480.5 896.6,484.1 892.1,486.8 889.4,489.5 885.8,492.2 882.2,496.7 879.5,502.1 877.4,506.2 873.8,511.6 870.2,515.2 864.8,520.5 863,517.9 859.4,518.8 858.5,523.2 857.6,526.8 854.1,528.6 848.7,531.3 845.1,534.9 843.3,536.7 839.7,534.9 837,532.2 835.6,534.9 838.8,539.4 836.1,543.9 831.6,548.4 828.6,550.5" fill="none" stroke="#111" stroke-width="1.1" stroke-linejoin="round"/>
<polyline points="828.6,241.1 832.9,241.7 835.5,243.6 838,246.2 841.8,248.7 846.9,249.1 852,248.7 857.1,248.7 862.2,249.6 866,250.4 869.9,248.7 874.9,246.6 878.8,246.2 883.9,247.5 890.2,248.7 896.6,250.6 901.7,253.2 905.5,257 909.3,262.1 913.1,268.5 915.1,274.8 916.3,283.7 916.7,288.6 918.5,294 918.9,298.5 917.1,302 918.5,303.5 921.6,306.6 922.5,310.2 925.2,313.8 926.1,319.1 927,324.5 926.7,329 927.5,330.8 929.3,335.3 931.5,339.8 932,341 929.6,346 931.1,347 934.3,349.9 934.7,358 933.8,367 931.6,369.6 933.4,372.3 930.9,377.7 932.5,382.2 933.4,386.7 932.5,390.3 930.6,395 929.3,399.5 927.9,404.9 926.6,410.3 924.8,415.7 923,419.3 919.9,422.5 921.2,425.5 918.9,430.9 916.7,436.3 914,441.7 911.3,446.2 908.6,449.8 905.9,453.4 902.4,461.7 897.5,467.1 893.9,469.8 890.3,472.5 886.7,476.1 883.1,479.6 880.4,483.2 877.7,487.7 875,491.3 872.9,493.6 869.3,496.3 865.7,499.9 862.1,503.5 861.2,506.2 856.7,511.6 852.3,513.4 847.8,516.1 843.3,518.8 838.8,522.3 834.3,526.8 830.7,530.4 828.6,532.8" fill="none" stroke="#000" stroke-width="2.6" stroke-linejoin="round"/>
<path d="M878.6 469L877.9 478.6L882.1 479M883.7 470.2L884.5 474L887.5 472" stroke="#000" stroke-width="1.2" fill="none"/>
<path d="M876.86 99.16H1359.44M876.86 293.05H1359.44" fill="none" stroke="#000" stroke-width="1.8" stroke-dasharray="7.1 6.13"/>
<path d="M876.86 99.16V293.05M1359.44 99.16V293.05" fill="none" stroke="#000" stroke-width="1.8" stroke-dasharray="7.3 5.93" stroke-dashoffset="7.79"/>
<path d="M876.86 390.48H1359.44M876.86 586.88H1359.44" fill="none" stroke="#000" stroke-width="1.8" stroke-dasharray="7.1 6.13"/>
<path d="M876.86 390.48V586.88M1359.44 390.48V586.88" fill="none" stroke="#000" stroke-width="1.8" stroke-dasharray="7.3 5.93" stroke-dashoffset="7.79"/>
<text x="881.3" y="125" font-size="27" font-weight="bold">A</text>
<text x="881.8" y="416.5" font-size="27" font-weight="bold">B</text>
<text x="973.3" y="173" font-size="27" font-weight="bold">AR</text>
<text x="1046.8" y="173" font-size="27" font-weight="bold">FN</text>
<circle cx="981.7" cy="189.2" r="1.6" fill="#000"/>
<ellipse cx="1049.3" cy="188.6" rx="4" ry="1.7" transform="rotate(-35 1049.3 188.6)" fill="#000"/>
<text x="858.3" y="285.7" font-size="17.5" font-weight="bold">Natal</text>
<circle cx="913.2" cy="280.6" r="6" fill="#000"/>
<text x="832.8" y="465" font-size="17.5" font-weight="bold">Maceio</text>
<circle cx="902.3" cy="461.5" r="6.1" fill="#000"/>
<path d="M828.6 50.8H1407.7" stroke="#5a5a5a" stroke-width="1.6"/>
<path d="M828.6 636.4H1407.7" stroke="#222" stroke-width="1.3"/>
<path d="M828.6 50V637" stroke="#111" stroke-width="1.6"/>
<path d="M1407.7 50V637" stroke="#333" stroke-width="1.3"/>
<path d="M828.6 44.8V50.8M828.6 636.4V642.4M876.86 44.8V50.8M876.86 636.4V642.4M925.12 44.8V50.8M925.12 636.4V642.4M973.38 44.8V50.8M973.38 636.4V642.4M1021.63 44.8V50.8M1021.63 636.4V642.4M1069.89 44.8V50.8M1069.89 636.4V642.4M1118.15 44.8V50.8M1118.15 636.4V642.4M1166.41 44.8V50.8M1166.41 636.4V642.4M1214.67 44.8V50.8M1214.67 636.4V642.4M1262.93 44.8V50.8M1262.93 636.4V642.4M1311.18 44.8V50.8M1311.18 636.4V642.4M1359.44 44.8V50.8M1359.44 636.4V642.4M1407.7 44.8V50.8M1407.7 636.4V642.4M822.6 50.8H828.6M1407.7 50.8H1413.7M822.6 99.16H828.6M1407.7 99.16H1413.7M822.6 147.55H828.6M1407.7 147.55H1413.7M822.6 195.99H828.6M1407.7 195.99H1413.7M822.6 244.48H828.6M1407.7 244.48H1413.7M822.6 293.05H828.6M1407.7 293.05H1413.7M822.6 341.71H828.6M1407.7 341.71H1413.7M822.6 390.48H828.6M1407.7 390.48H1413.7M822.6 439.36H828.6M1407.7 439.36H1413.7M822.6 488.38H828.6M1407.7 488.38H1413.7M822.6 537.54H828.6M1407.7 537.54H1413.7M822.6 586.88H828.6M1407.7 586.88H1413.7M822.6 636.4H828.6M1407.7 636.4H1413.7" stroke="#222" stroke-width="1.4"/>
<text transform="translate(816.8 61.2) scale(1.02 1.08)" font-size="18" text-anchor="end" fill="#1a1a1a" stroke="#1a1a1a" stroke-width="0.25">1<tspan font-size="14.5" dy="-7.9">o</tspan><tspan dy="7.9">S</tspan></text>
<text transform="translate(816.8 109.56) scale(1.02 1.08)" font-size="18" text-anchor="end" fill="#1a1a1a" stroke="#1a1a1a" stroke-width="0.25">2<tspan font-size="14.5" dy="-7.9">o</tspan><tspan dy="7.9">S</tspan></text>
<text transform="translate(816.8 157.95) scale(1.02 1.08)" font-size="18" text-anchor="end" fill="#1a1a1a" stroke="#1a1a1a" stroke-width="0.25">3<tspan font-size="14.5" dy="-7.9">o</tspan><tspan dy="7.9">S</tspan></text>
<text transform="translate(816.8 206.39) scale(1.02 1.08)" font-size="18" text-anchor="end" fill="#1a1a1a" stroke="#1a1a1a" stroke-width="0.25">4<tspan font-size="14.5" dy="-7.9">o</tspan><tspan dy="7.9">S</tspan></text>
<text transform="translate(816.8 254.88) scale(1.02 1.08)" font-size="18" text-anchor="end" fill="#1a1a1a" stroke="#1a1a1a" stroke-width="0.25">5<tspan font-size="14.5" dy="-7.9">o</tspan><tspan dy="7.9">S</tspan></text>
<text transform="translate(816.8 303.45) scale(1.02 1.08)" font-size="18" text-anchor="end" fill="#1a1a1a" stroke="#1a1a1a" stroke-width="0.25">6<tspan font-size="14.5" dy="-7.9">o</tspan><tspan dy="7.9">S</tspan></text>
<text transform="translate(816.8 352.11) scale(1.02 1.08)" font-size="18" text-anchor="end" fill="#1a1a1a" stroke="#1a1a1a" stroke-width="0.25">7<tspan font-size="14.5" dy="-7.9">o</tspan><tspan dy="7.9">S</tspan></text>
<text transform="translate(816.8 400.88) scale(1.02 1.08)" font-size="18" text-anchor="end" fill="#1a1a1a" stroke="#1a1a1a" stroke-width="0.25">8<tspan font-size="14.5" dy="-7.9">o</tspan><tspan dy="7.9">S</tspan></text>
<text transform="translate(816.8 449.76) scale(1.02 1.08)" font-size="18" text-anchor="end" fill="#1a1a1a" stroke="#1a1a1a" stroke-width="0.25">9<tspan font-size="14.5" dy="-7.9">o</tspan><tspan dy="7.9">S</tspan></text>
<text transform="translate(816.8 498.78) scale(1.02 1.08)" font-size="18" text-anchor="end" fill="#1a1a1a" stroke="#1a1a1a" stroke-width="0.25">10<tspan font-size="14.5" dy="-7.9">o</tspan><tspan dy="7.9">S</tspan></text>
<text transform="translate(816.8 547.94) scale(1.02 1.08)" font-size="18" text-anchor="end" fill="#1a1a1a" stroke="#1a1a1a" stroke-width="0.25">11<tspan font-size="14.5" dy="-7.9">o</tspan><tspan dy="7.9">S</tspan></text>
<text transform="translate(816.8 597.28) scale(1.02 1.08)" font-size="18" text-anchor="end" fill="#1a1a1a" stroke="#1a1a1a" stroke-width="0.25">12<tspan font-size="14.5" dy="-7.9">o</tspan><tspan dy="7.9">S</tspan></text>
<text transform="translate(816.8 646.8) scale(1.02 1.08)" font-size="18" text-anchor="end" fill="#1a1a1a" stroke="#1a1a1a" stroke-width="0.25">13<tspan font-size="14.5" dy="-7.9">o</tspan><tspan dy="7.9">S</tspan></text>
<text transform="translate(831.1 667) scale(1.01 1.08)" font-size="18" text-anchor="middle" fill="#1a1a1a" stroke="#1a1a1a" stroke-width="0.25">37<tspan font-size="14.5" dy="-7.6">o</tspan><tspan dy="7.6">W</tspan></text>
<text transform="translate(879.36 667) scale(1.01 1.08)" font-size="18" text-anchor="middle" fill="#1a1a1a" stroke="#1a1a1a" stroke-width="0.25">36<tspan font-size="14.5" dy="-7.6">o</tspan><tspan dy="7.6">W</tspan></text>
<text transform="translate(927.62 667) scale(1.01 1.08)" font-size="18" text-anchor="middle" fill="#1a1a1a" stroke="#1a1a1a" stroke-width="0.25">35<tspan font-size="14.5" dy="-7.6">o</tspan><tspan dy="7.6">W</tspan></text>
<text transform="translate(975.88 667) scale(1.01 1.08)" font-size="18" text-anchor="middle" fill="#1a1a1a" stroke="#1a1a1a" stroke-width="0.25">34<tspan font-size="14.5" dy="-7.6">o</tspan><tspan dy="7.6">W</tspan></text>
<text transform="translate(1024.13 667) scale(1.01 1.08)" font-size="18" text-anchor="middle" fill="#1a1a1a" stroke="#1a1a1a" stroke-width="0.25">33<tspan font-size="14.5" dy="-7.6">o</tspan><tspan dy="7.6">W</tspan></text>
<text transform="translate(1072.39 667) scale(1.01 1.08)" font-size="18" text-anchor="middle" fill="#1a1a1a" stroke="#1a1a1a" stroke-width="0.25">32<tspan font-size="14.5" dy="-7.6">o</tspan><tspan dy="7.6">W</tspan></text>
<text transform="translate(1120.65 667) scale(1.01 1.08)" font-size="18" text-anchor="middle" fill="#1a1a1a" stroke="#1a1a1a" stroke-width="0.25">31<tspan font-size="14.5" dy="-7.6">o</tspan><tspan dy="7.6">W</tspan></text>
<text transform="translate(1168.91 667) scale(1.01 1.08)" font-size="18" text-anchor="middle" fill="#1a1a1a" stroke="#1a1a1a" stroke-width="0.25">30<tspan font-size="14.5" dy="-7.6">o</tspan><tspan dy="7.6">W</tspan></text>
<text transform="translate(1217.17 667) scale(1.01 1.08)" font-size="18" text-anchor="middle" fill="#1a1a1a" stroke="#1a1a1a" stroke-width="0.25">29<tspan font-size="14.5" dy="-7.6">o</tspan><tspan dy="7.6">W</tspan></text>
<text transform="translate(1265.43 667) scale(1.01 1.08)" font-size="18" text-anchor="middle" fill="#1a1a1a" stroke="#1a1a1a" stroke-width="0.25">28<tspan font-size="14.5" dy="-7.6">o</tspan><tspan dy="7.6">W</tspan></text>
<text transform="translate(1313.68 667) scale(1.01 1.08)" font-size="18" text-anchor="middle" fill="#1a1a1a" stroke="#1a1a1a" stroke-width="0.25">27<tspan font-size="14.5" dy="-7.6">o</tspan><tspan dy="7.6">W</tspan></text>
<text transform="translate(1361.94 667) scale(1.01 1.08)" font-size="18" text-anchor="middle" fill="#1a1a1a" stroke="#1a1a1a" stroke-width="0.25">26<tspan font-size="14.5" dy="-7.6">o</tspan><tspan dy="7.6">W</tspan></text>
<text transform="translate(1410.2 667) scale(1.01 1.08)" font-size="18" text-anchor="middle" fill="#1a1a1a" stroke="#1a1a1a" stroke-width="0.25">25<tspan font-size="14.5" dy="-7.6">o</tspan><tspan dy="7.6">W</tspan></text>
<text x="1145.1" y="41.2" font-size="34.6" font-weight="bold" text-anchor="middle">Eddy polarity</text>
<text x="764.2" y="23.6" font-size="29" font-weight="bold">B</text>
<rect x="1422.1" y="501.49" width="19.3" height="6.31" fill="#000482"/>
<rect x="1422.1" y="495.47" width="19.3" height="6.31" fill="#000c8a"/>
<rect x="1422.1" y="489.46" width="19.3" height="6.31" fill="#001492"/>
<rect x="1422.1" y="483.44" width="19.3" height="6.31" fill="#001c9a"/>
<rect x="1422.1" y="477.43" width="19.3" height="6.31" fill="#0024a2"/>
<rect x="1422.1" y="471.42" width="19.3" height="6.31" fill="#002caa"/>
<rect x="1422.1" y="465.4" width="19.3" height="6.31" fill="#0034b2"/>
<rect x="1422.1" y="459.39" width="19.3" height="6.31" fill="#003cba"/>
<rect x="1422.1" y="453.37" width="19.3" height="6.31" fill="#0044c3"/>
<rect x="1422.1" y="447.36" width="19.3" height="6.31" fill="#004ccb"/>
<rect x="1422.1" y="441.35" width="19.3" height="6.31" fill="#0054d3"/>
<rect x="1422.1" y="435.33" width="19.3" height="6.31" fill="#005cdb"/>
<rect x="1422.1" y="429.32" width="19.3" height="6.31" fill="#0064e3"/>
<rect x="1422.1" y="423.3" width="19.3" height="6.31" fill="#006ceb"/>
<rect x="1422.1" y="417.29" width="19.3" height="6.31" fill="#0074f3"/>
<rect x="1422.1" y="411.27" width="19.3" height="6.31" fill="#007cfb"/>
<rect x="1422.1" y="405.26" width="19.3" height="6.31" fill="#0884ff"/>
<rect x="1422.1" y="399.25" width="19.3" height="6.31" fill="#188cff"/>
<rect x="1422.1" y="393.23" width="19.3" height="6.31" fill="#2894ff"/>
<rect x="1422.1" y="387.22" width="19.3" height="6.31" fill="#389cff"/>
<rect x="1422.1" y="381.2" width="19.3" height="6.31" fill="#48a4ff"/>
<rect x="1422.1" y="375.19" width="19.3" height="6.31" fill="#58acff"/>
<rect x="1422.1" y="369.18" width="19.3" height="6.31" fill="#68b4ff"/>
<rect x="1422.1" y="363.16" width="19.3" height="6.31" fill="#78bcff"/>
<rect x="1422.1" y="357.15" width="19.3" height="6.31" fill="#87c3ff"/>
<rect x="1422.1" y="351.13" width="19.3" height="6.31" fill="#97cbff"/>
<rect x="1422.1" y="345.12" width="19.3" height="6.31" fill="#a7d3ff"/>
<rect x="1422.1" y="339.11" width="19.3" height="6.31" fill="#b7dbff"/>
<rect x="1422.1" y="333.09" width="19.3" height="6.31" fill="#c7e3ff"/>
<rect x="1422.1" y="327.08" width="19.3" height="6.31" fill="#d7ebff"/>
<rect x="1422.1" y="321.06" width="19.3" height="6.31" fill="#e7f3ff"/>
<rect x="1422.1" y="315.05" width="19.3" height="6.31" fill="#f7fbff"/>
<rect x="1422.1" y="309.04" width="19.3" height="6.31" fill="#fff7f7"/>
<rect x="1422.1" y="303.02" width="19.3" height="6.31" fill="#ffe7e7"/>
<rect x="1422.1" y="297.01" width="19.3" height="6.31" fill="#ffd7d7"/>
<rect x="1422.1" y="290.99" width="19.3" height="6.31" fill="#ffc7c7"/>
<rect x="1422.1" y="284.98" width="19.3" height="6.31" fill="#ffb7b7"/>
<rect x="1422.1" y="278.97" width="19.3" height="6.31" fill="#ffa7a7"/>
<rect x="1422.1" y="272.95" width="19.3" height="6.31" fill="#ff9797"/>
<rect x="1422.1" y="266.94" width="19.3" height="6.31" fill="#ff8787"/>
<rect x="1422.1" y="260.92" width="19.3" height="6.31" fill="#ff7878"/>
<rect x="1422.1" y="254.91" width="19.3" height="6.31" fill="#ff6868"/>
<rect x="1422.1" y="248.9" width="19.3" height="6.31" fill="#ff5858"/>
<rect x="1422.1" y="242.88" width="19.3" height="6.31" fill="#ff4848"/>
<rect x="1422.1" y="236.87" width="19.3" height="6.31" fill="#ff3838"/>
<rect x="1422.1" y="230.85" width="19.3" height="6.31" fill="#ff2828"/>
<rect x="1422.1" y="224.84" width="19.3" height="6.31" fill="#ff1818"/>
<rect x="1422.1" y="218.83" width="19.3" height="6.31" fill="#ff0808"/>
<rect x="1422.1" y="212.81" width="19.3" height="6.31" fill="#fb0000"/>
<rect x="1422.1" y="206.8" width="19.3" height="6.31" fill="#f30000"/>
<rect x="1422.1" y="200.78" width="19.3" height="6.31" fill="#eb0000"/>
<rect x="1422.1" y="194.77" width="19.3" height="6.31" fill="#e30000"/>
<rect x="1422.1" y="188.75" width="19.3" height="6.31" fill="#db0000"/>
<rect x="1422.1" y="182.74" width="19.3" height="6.31" fill="#d30000"/>
<rect x="1422.1" y="176.73" width="19.3" height="6.31" fill="#cb0000"/>
<rect x="1422.1" y="170.71" width="19.3" height="6.31" fill="#c30000"/>
<rect x="1422.1" y="164.7" width="19.3" height="6.31" fill="#ba0000"/>
<rect x="1422.1" y="158.68" width="19.3" height="6.31" fill="#b20000"/>
<rect x="1422.1" y="152.67" width="19.3" height="6.31" fill="#aa0000"/>
<rect x="1422.1" y="146.66" width="19.3" height="6.31" fill="#a20000"/>
<rect x="1422.1" y="140.64" width="19.3" height="6.31" fill="#9a0000"/>
<rect x="1422.1" y="134.63" width="19.3" height="6.31" fill="#920000"/>
<rect x="1422.1" y="128.61" width="19.3" height="6.31" fill="#8a0000"/>
<rect x="1422.1" y="122.6" width="19.3" height="6.31" fill="#820000"/>
<rect x="1422.1" y="122.6" width="19.3" height="384.9" fill="none" stroke="#222" stroke-width="1.5"/>
<text transform="translate(1449.2 129.7) scale(1 1.03)" font-size="16.5" fill="#333" stroke="#333" stroke-width="0.2">1</text>
<text transform="translate(1449.2 168.19) scale(1 1.03)" font-size="16.5" fill="#333" stroke="#333" stroke-width="0.2">0.8</text>
<text transform="translate(1449.2 206.68) scale(1 1.03)" font-size="16.5" fill="#333" stroke="#333" stroke-width="0.2">0.6</text>
<text transform="translate(1449.2 245.17) scale(1 1.03)" font-size="16.5" fill="#333" stroke="#333" stroke-width="0.2">0.4</text>
<text transform="translate(1449.2 283.66) scale(1 1.03)" font-size="16.5" fill="#333" stroke="#333" stroke-width="0.2">0.2</text>
<text transform="translate(1449.2 322.15) scale(1 1.03)" font-size="16.5" fill="#333" stroke="#333" stroke-width="0.2">0</text>
<text transform="translate(1449.2 360.64) scale(1 1.03)" font-size="16.5" fill="#333" stroke="#333" stroke-width="0.2">-0.2</text>
<text transform="translate(1449.2 399.13) scale(1 1.03)" font-size="16.5" fill="#333" stroke="#333" stroke-width="0.2">-0.4</text>
<text transform="translate(1449.2 437.62) scale(1 1.03)" font-size="16.5" fill="#333" stroke="#333" stroke-width="0.2">-0.6</text>
<text transform="translate(1449.2 476.11) scale(1 1.03)" font-size="16.5" fill="#333" stroke="#333" stroke-width="0.2">-0.8</text>
<text transform="translate(1449.2 514.6) scale(1 1.03)" font-size="16.5" fill="#333" stroke="#333" stroke-width="0.2">-1</text>
<path d="M1437.9 122.6H1441.4M1437.9 161.09H1441.4M1437.9 199.58H1441.4M1437.9 238.07H1441.4M1437.9 276.56H1441.4M1437.9 315.05H1441.4M1437.9 353.54H1441.4M1437.9 392.03H1441.4M1437.9 430.52H1441.4M1437.9 469.01H1441.4M1437.9 507.5H1441.4" stroke="#222" stroke-width="1.3"/>
</g>
</svg>
</body></html>
